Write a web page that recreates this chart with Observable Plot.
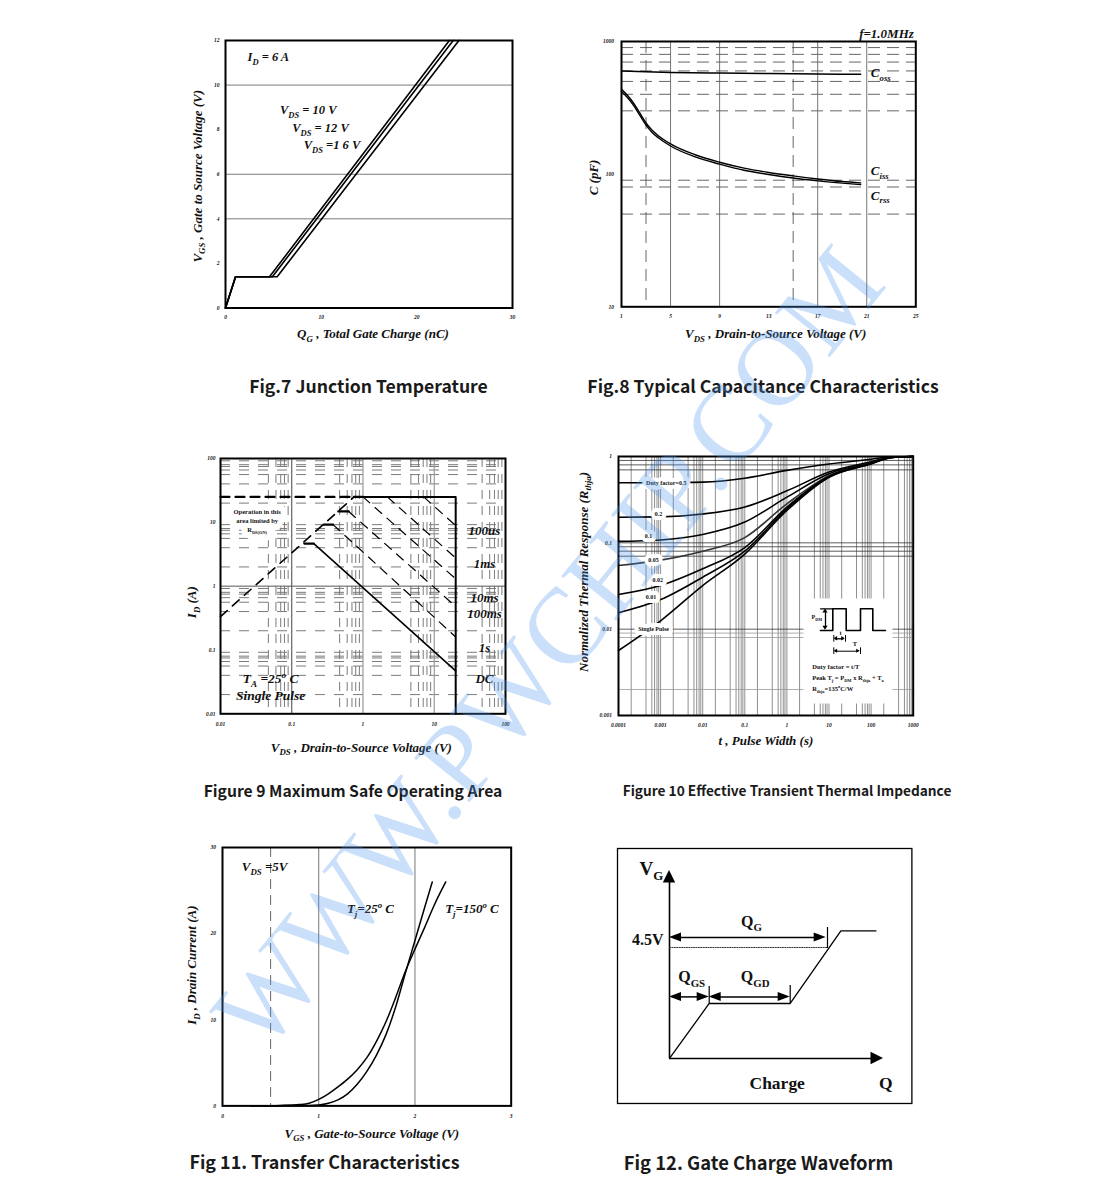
<!DOCTYPE html>
<html>
<head>
<meta charset="utf-8">
<script src="https://cdn.jsdelivr.net/npm/d3@7"></script>
<script src="https://cdn.jsdelivr.net/npm/@observablehq/plot@0.6"></script>
<style>
html,body{margin:0;padding:0;background:#fff;}
#page{position:relative;width:1102px;height:1186px;overflow:hidden;background:#fff;}
.cap{position:absolute;transform:translate(-50%,-50%);white-space:nowrap;font-family:"Noto Sans CJK SC","Noto Sans",sans-serif;font-weight:700;color:#1a1a1a;line-height:1;}
#wm{position:absolute;left:548px;top:648px;transform:translate(-50%,-50%) rotate(-51deg);font-family:"Liberation Serif",serif;font-size:108px;color:rgba(80,150,235,0.30);white-space:nowrap;pointer-events:none;line-height:1;z-index:5;}
</style>
</head>
<body>
<div id="page"></div>
<script>
// ======================= DATA =======================
// Fig.7  gate charge (Q_G in nC, V_GS in V)
const f7QG_10V = [0, 1.05, 4.6, 23.4];
const f7QG_12V = [0, 1.05, 4.9, 23.8];
const f7QG_16V = [0, 1.05, 5.4, 24.4];
const f7VGS    = [0, 1.4, 1.4, 12];
const f7XTicks = [0, 10, 20, 30];
const f7YTicks = [0, 2, 4, 6, 8, 10, 12];
const f7Grid   = [4, 6, 10];
const f7Notes  = ["I_{D} = 6 A", "V_{DS} = 10 V", "V_{DS} = 12 V", "V_{DS} =1 6 V"];

// Fig.8  capacitance (V_DS in V, C in pF)
const f8VdsC  = [1, 1.5, 2, 2.5, 3, 3.5, 4, 5, 7, 9, 11, 13, 15, 17, 19, 20.5];
const f8Ciss  = [437, 392, 342, 288, 243, 214, 195, 169, 140, 123, 111, 103, 97, 92, 88, 86];
const f8Crss  = [420, 377, 329, 277, 234, 206, 188, 163, 135, 119, 107, 99.5, 93.5, 89, 85.5, 83.5];
const f8VdsO  = [1, 3, 5, 9, 13, 17, 20.5];
const f8Coss  = [600, 591, 585, 578, 573, 569, 566];
const f8XTicks = [1, 5, 9, 13, 17, 21, 25];
const f8YTicks = [10, 100, 1000];
const f8GridSolidX = [5, 9, 17, 21];
const f8GridDashX  = [3, 15];
const f8GridDashY  = [50, 80, 90, 300, 400, 500, 600, 700, 800, 900];
const f8Names = ["C_{oss}", "C_{iss}", "C_{rss}"];

// Fig 9  SOA (V_DS in V, I_D in A)
const f9Ticks = [0.01, 0.1, 1, 10, 100];
const f9TickLabels = ["0.01", "0.1", "1", "10", "100"];
const f9RdsV = [0.01, 0.75], f9RdsI = [0.333, 25];
const f9LimV = [0.01, 0.75], f9LimI = [25, 25];
const f9EnvV = [0.75, 20, 20], f9EnvI = [25, 25, 0.01];
const f9Pulses = ["100us", "1ms", "10ms", "100ms", "1s", "DC"];
const f9LineV = [[7.1, 20], [2.2, 20], [1.0, 20], [0.63, 20], [0.38, 20], [0.204, 20]];
const f9LineI = [[25, 8.9], [25, 2.75], [25, 1.3], [14.8, 0.48], [9.2, 0.16], [4.65, 0.047]];
const f9StepV = [[0.75, 1.0], [0.45, 0.63], [0.28, 0.38], [0.15, 0.204]];
const f9StepI = [25, 14.8, 9.2, 4.65];
const f9GridMantY = [2, 4, 5.6, 6.6, 7.5, 8, 9.2];
const f9GridMantX = [4.7, 6, 7, 7.9, 8.9];
const f9Decades = [0.01, 0.1, 1, 10];
const f9Region = ["Operation in this", "area limited by", "R_{DS(ON)}"];

// Fig 10  transient thermal impedance (t in s, normalized r)
const f10T = [1e-4, 1e-3, 1e-2, 0.1, 1, 10, 100, 300, 1000];
const f10Names = ["Duty factor=0.5", "0.2", "0.1", "0.05", "0.02", "0.01", "Single Pulse"];
const f10R = [
  [0.496, 0.497, 0.505, 0.56, 0.69, 0.82, 0.93, 0.99, 1],
  [0.198, 0.2, 0.216, 0.26, 0.40, 0.66, 0.87, 0.98, 1],
  [0.104, 0.108, 0.125, 0.174, 0.338, 0.63, 0.85, 0.978, 1],
  [0.0546, 0.063, 0.08, 0.115, 0.283, 0.60, 0.84, 0.975, 1],
  [0.0252, 0.032, 0.05, 0.088, 0.259, 0.59, 0.835, 0.974, 1],
  [0.0155, 0.022, 0.04, 0.08, 0.248, 0.58, 0.83, 0.973, 1],
  [0.00566, 0.0125, 0.032, 0.074, 0.237, 0.576, 0.82, 0.97, 1]
];
const f10XTicks = [1e-4, 1e-3, 1e-2, 0.1, 1, 10, 100, 1000];
const f10XLabels = ["0.0001", "0.001", "0.01", "0.1", "1", "10", "100", "1000"];
const f10YTicks = [0.001, 0.01, 0.1, 1];
const f10YLabels = ["0.001", "0.01", "0.1", "1"];
const f10GridMant = [1, 2, 4.5, 6.2, 7.2, 8.2, 9];
const f10Decades = [1e-4, 1e-3, 1e-2, 0.1, 1, 10, 100];
const f10GridYDark = [0.9, 0.8, 0.7, 0.1, 0.09, 0.08, 0.07, 0.01];
const f10GridYLight = [0.009, 0.008, 0.002];
const f10InsetText = ["Duty factor = t/T", "Peak T_{j} = P_{DM} x R_{thja} + T_{a}", "R_{thja}=135^{o}C/W"];

// Fig 11  transfer characteristics (V_GS in V, I_D in A)
const f11V150 = [0.3, 0.6, 0.8, 0.9, 1.0, 1.1, 1.2, 1.3, 1.4, 1.5, 1.6, 1.7, 1.8, 1.9, 2.0, 2.1, 2.2, 2.32];
const f11I150 = [0, 0.05, 0.15, 0.3, 0.75, 1.4, 2.2, 3.1, 4.2, 5.6, 7.5, 9.8, 12.6, 15.6, 18.2, 20.7, 23.3, 26.0];
const f11V25  = [0.3, 0.8, 1.0, 1.1, 1.2, 1.3, 1.4, 1.5, 1.6, 1.7, 1.8, 1.9, 2.0, 2.1, 2.18];
const f11I25  = [0, 0.02, 0.1, 0.3, 0.7, 1.4, 2.5, 4.0, 5.9, 8.3, 11.5, 15.4, 19.2, 23.0, 26.0];
const f11XTicks = [0, 1, 2, 3];
const f11YTicks = [0, 10, 20, 30];
const f11Notes = ["V_{DS} =5V", "T_{j}=25^{o} C", "T_{j}=150^{o} C"];

// Fig 12  gate charge waveform (schematic units)
const f12WaveQ = [0, 3.97, 12.07, 17.14, 20.64];
const f12WaveV = [0, 5.5, 5.5, 12.76, 12.76];
const f12AxisEnd = {q: 21.4, v: 18.8};
const f12Spans = [
  {label: "Q_{G}",  q0: 0,    q1: 15.67, v: 12.1},
  {label: "Q_{GS}", q0: 0,    q1: 3.97,  v: 6.16},
  {label: "Q_{GD}", q0: 3.97, q1: 12.07, v: 6.16}
];
const f12Level = {label: "4.5V", v: 11.1, q1: 15.8};
const f12Marks = [{q: 15.8, v0: 11.0, v1: 13.1}, {q: 3.97, v0: 5.5, v1: 7.2}, {q: 12.07, v0: 5.5, v1: 7.3}];

const captions = ["Fig.7 Junction Temperature", "Fig.8 Typical Capacitance Characteristics",
  "Figure 9 Maximum Safe Operating Area", "Figure 10 Effective Transient Thermal Impedance",
  "Fig 11. Transfer Characteristics", "Fig 12. Gate Charge Waveform"];

// ======================= HELPERS =======================
const page = document.getElementById("page");
const NS = "http://www.w3.org/2000/svg";
const SERIF = "Liberation Serif, DejaVu Serif, serif";
const bi = {fontFamily: SERIF, fontWeight: "bold", fontStyle: "italic", fill: "#111"};
const bu = {fontFamily: SERIF, fontWeight: "bold", fill: "#111"};
const pts = (xs, ys) => xs.map((x, i) => ({x, y: ys[i]}));
const cross = (dec, mant) => dec.flatMap(d => mant.map(m => d * m));

// turn "V_{DS}" / "25^{o}" into real sub/superscript tspans
function richify(root) {
  root.querySelectorAll("text, tspan").forEach(el => {
    if (el.children.length) return;
    const s = el.textContent;
    if (!/[_^]\{/.test(s)) return;
    const fs = parseFloat(getComputedStyle(el).fontSize) || 10;
    el.textContent = "";
    const re = /([_^])\{([^}]*)\}/g;
    let last = 0, m, shift = 0;
    const add = (txt, kind) => {
      const t = document.createElementNS(NS, "tspan");
      t.textContent = txt;
      const target = kind === "_" ? 0.28 * fs : kind === "^" ? -0.38 * fs : 0;
      const d = target - shift;
      if (d) t.setAttribute("dy", d.toFixed(2));
      shift = target;
      if (kind) t.setAttribute("font-size", (0.68 * fs).toFixed(2) + "px");
      el.appendChild(t);
    };
    while ((m = re.exec(s))) {
      if (m.index > last) add(s.slice(last, m.index));
      add(m[2], m[1]);
      last = re.lastIndex;
    }
    if (last < s.length) add(s.slice(last));
  });
}

function panel(fr, pad, opts) {
  const [L, T, R, B] = fr, [pl, pt, pr, pb] = pad;
  const svg = Plot.plot({
    width: (R - L) + pl + pr, height: (B - T) + pt + pb,
    marginLeft: pl, marginTop: pt, marginRight: pr, marginBottom: pb,
    style: {background: "transparent", overflow: "visible", fontFamily: SERIF},
    ...opts
  });
  svg.style.position = "absolute";
  svg.style.left = (L - pl) + "px";
  svg.style.top = (T - pt) + "px";
  svg.style.maxWidth = "none";
  page.appendChild(svg);
  richify(svg);
  return svg;
}
const xTicks = (vals, labels, dy, size = 5.5) => Plot.text(vals, {x: d => d, text: (d, i) => labels[i], frameAnchor: "bottom", dy, textAnchor: "middle", lineAnchor: "middle", fontSize: size, ...bi});
const yTicks = (vals, labels, dx, size = 5.5) => Plot.text(vals, {y: d => d, text: (d, i) => labels[i], frameAnchor: "left", dx: -dx, textAnchor: "end", lineAnchor: "middle", fontSize: size, ...bi});
const yTitle = (s, dx, dy, size) => Plot.text([s], {frameAnchor: "left", dx, dy, rotate: -90, textAnchor: "middle", lineAnchor: "middle", fontSize: size, ...bi});
const xTitle = (s, dx, dy, size) => Plot.text([s], {frameAnchor: "bottom", dx, dy, textAnchor: "middle", lineAnchor: "middle", fontSize: size, ...bi});
const frame = (w = 2) => Plot.frame({stroke: "#000", strokeWidth: w});

// filled arrow heads as small areas (horizontal and vertical)
function headsH(list) {
  const data = list.flatMap((h, k) => [
    {id: k, x: h.x - h.dir * h.L, y1: h.y - h.W, y2: h.y + h.W},
    {id: k, x: h.x, y1: h.y, y2: h.y}
  ]);
  return Plot.areaY(data, {x: "x", y1: "y1", y2: "y2", z: "id", fill: "#000"});
}
function headsV(list) {
  const data = list.flatMap((h, k) => [
    {id: k, y: h.y - h.dir * h.L, x1: h.x - h.W, x2: h.x + h.W},
    {id: k, y: h.y, x1: h.x, x2: h.x}
  ]);
  return Plot.areaX(data, {y: "y", x1: "x1", x2: "x2", z: "id", fill: "#000"});
}

// ======================= FIG 7 =======================
panel([225, 40, 512, 307.5], [85, 20, 15, 45], {
  x: {domain: [0, 30], axis: null},
  y: {domain: [0, 12], axis: null},
  marks: [
    Plot.ruleY(f7Grid, {stroke: "#7a7a7a", strokeWidth: 1}),
    ...[f7QG_10V, f7QG_12V, f7QG_16V].map(q => Plot.line(pts(q, f7VGS), {x: "x", y: "y", stroke: "#000", strokeWidth: 1.6})),
    Plot.text(f7Notes, {x: (d, i) => [2.3, 5.7, 6.97, 8.18][i], y: (d, i) => [11.25, 8.86, 8.07, 7.29][i], textAnchor: "start", lineAnchor: "middle", fontSize: 12.5, ...bi}),
    xTicks(f7XTicks, f7XTicks.map(String), 9),
    yTicks(f7YTicks, f7YTicks.map(String), 6),
    yTitle("V_{GS} , Gate to Source Voltage (V)", -28, 2, 13),
    xTitle("Q_{G} , Total Gate Charge (nC)", 4, 26, 13),
    frame()
  ]
});

// ======================= FIG 8 =======================
panel([620.7, 40.7, 915, 306], [60, 30, 30, 45], {
  x: {domain: [1, 25], axis: null},
  y: {type: "log", domain: [10, 1000], axis: null},
  marks: [
    Plot.ruleY(f8GridDashY, {stroke: "#555", strokeWidth: 0.9, strokeDasharray: "12,7"}),
    Plot.ruleX(f8GridSolidX, {stroke: "#666", strokeWidth: 0.9}),
    Plot.ruleX(f8GridDashX, {stroke: "#555", strokeWidth: 0.9, strokeDasharray: "12,7"}),
    Plot.line(pts(f8VdsO, f8Coss), {x: "x", y: "y", stroke: "#000", strokeWidth: 1.5, curve: "monotone-x"}),
    Plot.line(pts(f8VdsC, f8Ciss), {x: "x", y: "y", stroke: "#000", strokeWidth: 1.4, curve: "monotone-x"}),
    Plot.line(pts(f8VdsC, f8Crss), {x: "x", y: "y", stroke: "#000", strokeWidth: 1.4, curve: "monotone-x"}),
    Plot.text(f8Names, {x: 21.33, y: (d, i) => [580, 106, 69][i], textAnchor: "start", lineAnchor: "middle", fontSize: 13, ...bi}),
    Plot.text(["f=1.0MHz"], {frameAnchor: "top-right", dx: -2, dy: -7.5, textAnchor: "end", lineAnchor: "middle", fontSize: 13, ...bi}),
    xTicks(f8XTicks, f8XTicks.map(String), 9),
    yTicks(f8YTicks, f8YTicks.map(String), 7.5),
    yTitle("C (pF)", -27.4, 3.3, 13),
    xTitle("V_{DS} , Drain-to-Source Voltage (V)", 7, 27, 13),
    frame()
  ]
});

// ======================= FIG 9 =======================
const f9RegionPos = {x: 0.0327, y: [14.6, 10.6, 7.55]};
panel([220, 457.7, 505, 713], [60, 20, 20, 50], {
  x: {type: "log", domain: [0.01, 100], axis: null},
  y: {type: "log", domain: [0.01, 100], axis: null},
  marks: [
    Plot.ruleY(cross(f9Decades, f9GridMantY), {stroke: "#7a7a7a", strokeWidth: 1, strokeDasharray: "10,9"}),
    Plot.ruleX(cross(f9Decades, f9GridMantX), {stroke: "#7a7a7a", strokeWidth: 1, strokeDasharray: "9,7"}),
    Plot.ruleX([0.1], {stroke: "#444", strokeWidth: 1}),
    Plot.ruleX([1, 10], {stroke: "#9a9a9a", strokeWidth: 1.2}),
    Plot.ruleY([1], {stroke: "#555", strokeWidth: 1}),
    // white box behind the region note, then the note itself
    Plot.text(f9Region, {x: f9RegionPos.x, y: (d, i) => f9RegionPos.y[i], textAnchor: "middle", lineAnchor: "middle", fontSize: 6.5, stroke: "#fff", strokeWidth: 12, ...bu, fill: "#fff"}),
    Plot.text(f9Region, {x: f9RegionPos.x, y: (d, i) => f9RegionPos.y[i], textAnchor: "middle", lineAnchor: "middle", fontSize: 6.5, ...bu}),
    Plot.line(pts(f9RdsV, f9RdsI), {x: "x", y: "y", stroke: "#000", strokeWidth: 1.6, strokeDasharray: "9,7"}),
    Plot.line(pts(f9LimV, f9LimI), {x: "x", y: "y", stroke: "#000", strokeWidth: 2.2, strokeDasharray: "9,6"}),
    Plot.line(pts(f9EnvV, f9EnvI), {x: "x", y: "y", stroke: "#000", strokeWidth: 2}),
    ...f9LineV.map((v, k) => Plot.line(pts(v, f9LineI[k]), {x: "x", y: "y", stroke: "#000", strokeWidth: k === 5 ? 1.6 : 1.2, strokeDasharray: k === 5 ? null : "9,7"})),
    ...f9StepV.map((v, k) => Plot.line(pts(v, [f9StepI[k], f9StepI[k]]), {x: "x", y: "y", stroke: "#000", strokeWidth: 2.2})),
    Plot.text(["T_{A} =25^{o} C", "Single Pulse"], {x: 0.0505, y: (d, i) => [0.035, 0.0191][i], textAnchor: "middle", lineAnchor: "middle", fontSize: 13.5, ...bi}),
    Plot.text(f9Pulses, {x: 50.7, y: (d, i) => [7.37, 2.22, 0.664, 0.365, 0.109, 0.035][i], textAnchor: "middle", lineAnchor: "middle", fontSize: 13, ...bi}),
    xTicks(f9Ticks, f9TickLabels, 10),
    yTicks(f9Ticks, f9TickLabels, 5),
    yTitle("I_{D} (A)", -28.3, 16, 13),
    xTitle("V_{DS} , Drain-to-Source Voltage (V)", -1.7, 33.7, 13),
    frame()
  ]
});

// ======================= FIG 10 =======================
panel([618.3, 456, 913, 715], [60, 20, 20, 50], {
  x: {type: "log", domain: [1e-4, 1e3], axis: null},
  y: {type: "log", domain: [1e-3, 1], axis: null},
  marks: [
    Plot.ruleX(cross(f10Decades, f10GridMant), {stroke: "#444", strokeWidth: 0.6}),
    Plot.ruleY(f10GridYDark, {stroke: "#333", strokeWidth: 0.8}),
    Plot.ruleY(f10GridYLight, {stroke: "#999", strokeWidth: 0.8}),
    ...f10R.map((r, k) => Plot.line(pts(f10T, r), {x: "x", y: "y", stroke: k === 3 ? "#333" : "#000", strokeWidth: 1.6, curve: "monotone-x"})),
    Plot.text(f10Names, {x: (d, i) => [1.36e-3, 8.9e-4, 5.16e-4, 6.8e-4, 8.6e-4, 5.9e-4, 6.8e-4][i], y: (d, i) => [0.487, 0.213, 0.119, 0.0624, 0.0372, 0.0235, 0.01][i], textAnchor: "middle", lineAnchor: "middle", fontSize: 6, stroke: "#fff", strokeWidth: 8, ...bu}),
    xTicks(f10XTicks, f10XLabels, 10),
    yTicks(f10YTicks, f10YLabels, 6.6),
    yTitle("Normalized Thermal Response (R_{thja})", -35, -14, 13),
    xTitle("t , Pulse Width (s)", 0, 25, 13),
    frame()
  ]
});

// Fig 10 inset (pulse definition), local units = px inside the white box
const insetWaveX = [17, 29.3, 29.3, 42.7, 42.7, 57, 57, 69.3, 69.3, 82];
const insetWaveY = [32, 32, 10.3, 10.3, 32, 32, 10.3, 10.3, 32, 32];
panel([803, 598, 892, 703], [0, 0, 0, 0], {
  x: {domain: [0, 89], axis: null},
  y: {domain: [105, 0], axis: null},
  marks: [
    Plot.frame({fill: "#fff", stroke: "none"}),
    Plot.line(pts(insetWaveX, insetWaveY), {x: "x", y: "y", stroke: "#000", strokeWidth: 1.6}),
    Plot.line(pts([17, 29.3], [10.3, 10.3]), {x: "x", y: "y", stroke: "#000", strokeWidth: 1.2}),
    Plot.ruleX([22], {y1: 13, y2: 29.3, stroke: "#000", strokeWidth: 1.3}),
    headsV([{x: 22, y: 10.6, dir: -1, L: 4, W: 2.6}, {x: 22, y: 31.7, dir: 1, L: 4, W: 2.6}]),
    Plot.ruleY([40.3], {x1: 32, x2: 40.4, stroke: "#000", strokeWidth: 1.3}),
    headsH([{x: 30.6, y: 40.3, dir: -1, L: 3.5, W: 2.2}, {x: 41.7, y: 40.3, dir: 1, L: 3.5, W: 2.2}]),
    Plot.ruleY([52.7], {x1: 32, x2: 55.3, stroke: "#000", strokeWidth: 1}),
    headsH([{x: 30.6, y: 52.7, dir: -1, L: 3.5, W: 2}, {x: 56.7, y: 52.7, dir: 1, L: 3.5, W: 2}]),
    Plot.ruleX([30.3, 42], {y1: 37, y2: 43.7, stroke: "#000", strokeWidth: 1}),
    Plot.ruleX([30.3, 57], {y1: 49.3, y2: 56, stroke: "#000", strokeWidth: 1}),
    Plot.text(["P_{DM}"], {x: 18.5, y: 18.7, textAnchor: "end", lineAnchor: "middle", fontSize: 6, ...bu}),
    Plot.text(["t", "T"], {x: (d, i) => [37, 51.3][i], y: (d, i) => [34.7, 45.7][i], textAnchor: "middle", lineAnchor: "middle", fontSize: 6.5, ...bu}),
    Plot.text(f10InsetText, {x: 8.7, y: (d, i) => [68.7, 79.7, 90.3][i], textAnchor: "start", lineAnchor: "middle", fontSize: 6.5, ...bu})
  ]
});

// ======================= FIG 11 =======================
panel([222.3, 847.3, 511, 1105.7], [62, 20, 20, 50], {
  x: {domain: [0, 3], axis: null},
  y: {domain: [0, 30], axis: null},
  marks: [
    Plot.ruleX([1, 2], {stroke: "#666", strokeWidth: 0.9}),
    Plot.ruleX([0.5], {stroke: "#555", strokeWidth: 0.9, strokeDasharray: "10,6"}),
    Plot.line(pts(f11V150, f11I150), {x: "x", y: "y", stroke: "#000", strokeWidth: 1.5, curve: "monotone-x"}),
    Plot.line(pts(f11V25, f11I25), {x: "x", y: "y", stroke: "#000", strokeWidth: 1.5, curve: "monotone-x"}),
    Plot.text(f11Notes, {x: (d, i) => [0.2, 1.293, 2.314][i], y: (d, i) => [27.75, 22.84, 22.84][i], textAnchor: "start", lineAnchor: "middle", fontSize: 13, ...bi}),
    xTicks(f11XTicks, f11XTicks.map(String), 10.3),
    yTicks(f11YTicks, f11YTicks.map(String), 6.6),
    yTitle("I_{D} , Drain Current (A)", -30.6, -11.5, 13),
    xTitle("V_{GS} , Gate-to-Source Voltage (V)", 5, 27.6, 13),
    frame()
  ]
});

// ======================= FIG 12 =======================
const spanLines = f12Spans.map(s => ({x1: s.q0 + 0.6, x2: s.q1 - 0.6, y: s.v}));
const spanHeads = f12Spans.flatMap(s => [{x: s.q0, y: s.v, dir: -1, L: 1.2, W: 0.45}, {x: s.q1, y: s.v, dir: 1, L: 1.2, W: 0.45}]);
panel([617.3, 848.3, 911.7, 1103.3], [2, 2, 2, 2], {
  x: {domain: [-5.2, 24.24], axis: null},
  y: {domain: [-4.5, 21], axis: null},
  marks: [
    Plot.ruleY([0], {x1: 0, x2: f12AxisEnd.q - 0.6, stroke: "#000", strokeWidth: 1.6}),
    Plot.ruleX([0], {y1: 0, y2: f12AxisEnd.v - 0.6, stroke: "#000", strokeWidth: 1.6}),
    headsH([{x: f12AxisEnd.q, y: 0, dir: 1, L: 1.25, W: 0.62}]),
    headsV([{x: 0, y: f12AxisEnd.v, dir: 1, L: 1.25, W: 0.62}]),
    Plot.line(pts(f12WaveQ, f12WaveV), {x: "x", y: "y", stroke: "#000", strokeWidth: 1.3}),
    Plot.line(pts([0, f12Level.q1], [f12Level.v, f12Level.v]), {x: "x", y: "y", stroke: "#333", strokeWidth: 1, strokeDasharray: "1.2,1.2"}),
    Plot.ruleY(spanLines, {x1: "x1", x2: "x2", y: "y", stroke: "#000", strokeWidth: 1.5}),
    headsH(spanHeads),
    Plot.ruleX(f12Marks, {x: "q", y1: "v0", y2: "v1", stroke: "#000", strokeWidth: 1.2}),
    Plot.text(["V_{G}"], {x: -3.0, y: 19.0, textAnchor: "start", lineAnchor: "middle", fontSize: 19, ...bu}),
    Plot.text([f12Level.label], {x: -0.6, y: 11.83, textAnchor: "end", lineAnchor: "middle", fontSize: 16, ...bu}),
    Plot.text(f12Spans, {x: (d, i) => [8.2, 2.22, 8.57][i], y: (d, i) => [13.7, 8.15, 8.15][i], text: "label", textAnchor: "middle", lineAnchor: "middle", fontSize: 16, ...bu}),
    Plot.text(["Charge", "Q"], {x: (d, i) => [10.77, 21.62][i], y: -2.47, textAnchor: "middle", lineAnchor: "middle", fontSize: 17.5, ...bu}),
    frame(1.3)
  ]
});

// ======================= CAPTIONS & WATERMARK =======================
const capPos = [[368.5, 386, 17.6], [763, 386, 17.6], [353, 791, 15.7], [787, 791, 13.7], [324.5, 1162, 17.9], [758.5, 1162, 18.4]];
captions.forEach((t, i) => {
  const d = document.createElement("div");
  d.className = "cap";
  d.textContent = t;
  d.style.left = capPos[i][0] + "px";
  d.style.top = capPos[i][1] + "px";
  d.style.fontSize = capPos[i][2] + "px";
  page.appendChild(d);
});
const wm = document.createElement("div");
wm.id = "wm";
wm.textContent = "WWW.PWCHIP.COM";
page.appendChild(wm);
</script>
</body>
</html>
